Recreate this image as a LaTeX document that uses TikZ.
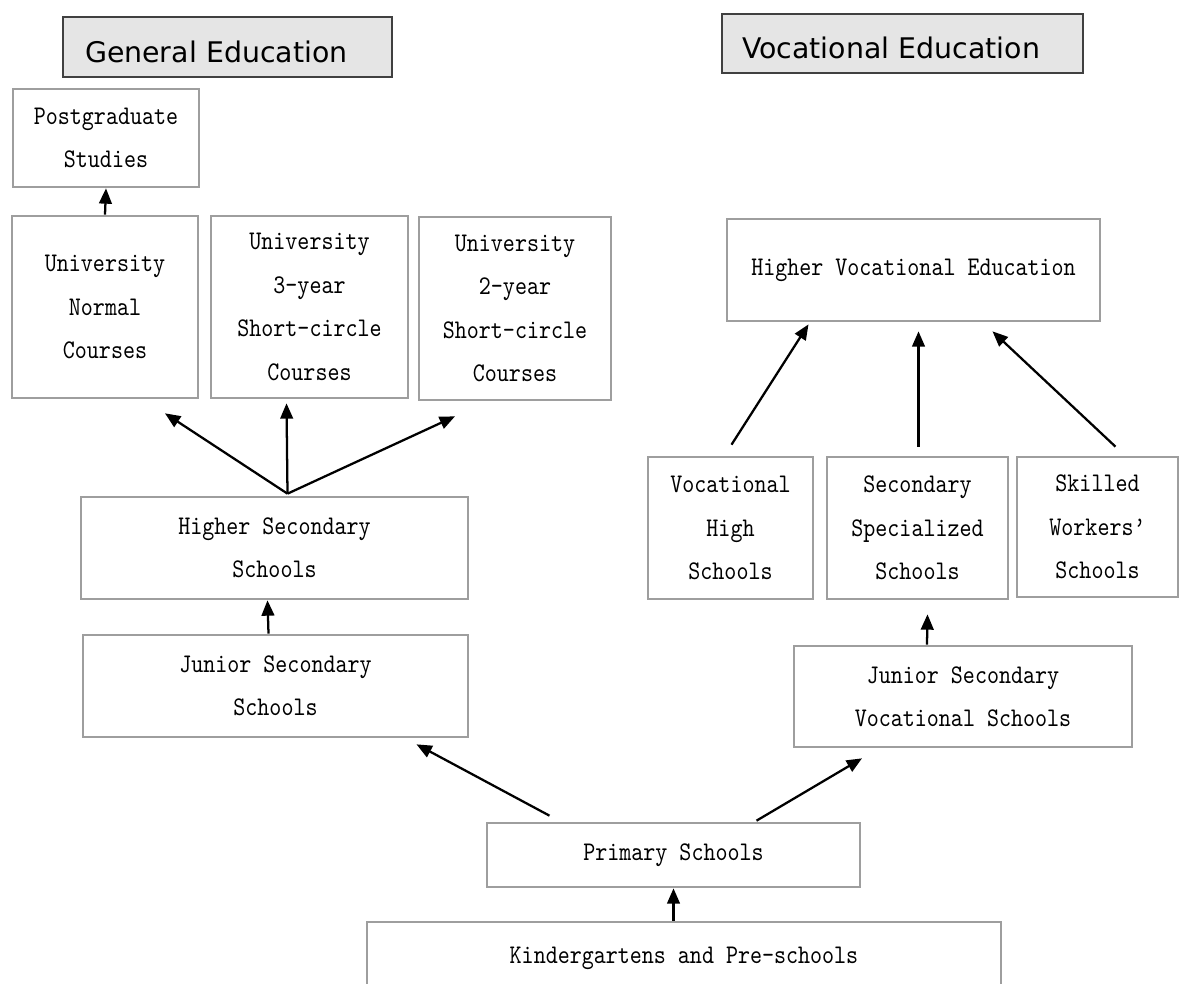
\documentclass[tikz,border=0pt]{standalone}
\usepackage{fontspec}
\usepackage{tikz}
\usetikzlibrary{arrows.meta, calc}
\newfontfamily\headfont{DejaVu Sans}
\newfontfamily\boxfont[FakeStretch=0.85]{lmmono10-regular.otf}

\begin{document}
\begin{tikzpicture}[
  x=0.75pt, y=-0.75pt,
  >={Triangle[length=11.5pt, width=9.5pt]},
  font={\boxfont\fontsize{20.2}{32.6}\selectfont},
  sz/.style 2 args={minimum width=#1*0.75pt, minimum height=#2*0.75pt},
  B/.style={draw=black!38, line width=2pt, rectangle, align=center,
            inner sep=0pt},
  H/.style={draw=black!75, fill=black!10, line width=1.1pt, rectangle,
            align=left, text height=22.5pt, text depth=0pt,
            font={\headfont\fontsize{21.3}{26}\selectfont}},
  arr/.style={->, line width=1.7pt},
]
\useasboundingbox (0,0) rectangle (1182,983);

%% ---- Headings ----
\node[H, text width=213.75pt, inner xsep=16.5pt, minimum height=45pt]
  (gen) at (227.5,47) {General Education};
\node[H, text width=240.75pt, inner xsep=15pt, minimum height=44.25pt]
  (voc) at (902.5,43.5) {Vocational Education};

%% ---- General education (left) ----
\node[B, sz={186}{98}]  (pg)   at (106,138)   {Postgraduate\\Studies};
\node[B, sz={186}{182}] (norm) at (105,307)   {University\\Normal\\Courses};
\node[B, sz={197}{182}] (thr)  at (309.5,307) {University\\3-year\\Short-circle\\Courses};
\node[B, sz={192}{183}] (two)  at (515,308.5) {University\\2-year\\Short-circle\\Courses};
\node[B, sz={387}{102}] (hsg)  at (274.5,548) {Higher Secondary\\Schools};
\node[B, sz={385}{102}] (jsg)  at (275.5,686) {Junior Secondary\\Schools};

%% ---- Vocational education (right) ----
\node[B, sz={373}{102}] (hve)  at (913.5,270)  {Higher Vocational Education};
\node[B, sz={165}{142}] (vh)   at (730.5,528)  {Vocational\\High\\Schools};
\node[B, sz={181}{142}] (ss)   at (917.5,528)  {Secondary\\Specialized\\Schools};
\node[B, sz={161}{140}] (sw)   at (1097.5,527) {Skilled\\Workers’\\Schools};
\node[B, sz={338}{101}] (jsv)  at (963,696.5)  {Junior Secondary\\Vocational Schools};

%% ---- Common base ----
\node[B, sz={373}{64}]  (prim) at (673.5,855) {Primary Schools};
\node[B, sz={634}{72}]  (kin)  at (684,958)   {Kindergartens and Pre-schools};

%% ---- Arrows, left side ----
\coordinate (hstop) at ($(hsg.north)+(13,-2)$);
\draw[arr] (hstop) -- ($(norm.south)+(60,14)$);
\draw[arr] (hstop) -- ($(thr.south)+(-23,4)$);
\draw[arr] (hstop) -- ($(two.south)+(-60,15)$);
\draw[arr] (norm.north) -- (pg.south);
\draw[arr] ($(jsg.north)+(-7,0)$) -- ($(hsg.south)+(-7,0)$);

%% ---- Arrows, right side ----
\draw[arr] ($(vh.north)+(1,-11)$) -- ($(hve.south)+(-105,2)$);
\draw[arr] ($(ss.north)+(1,-9)$)  -- ($(hve.south)+(5,9)$);
\draw[arr] ($(sw.north)+(18,-9)$) -- ($(hve.south)+(79,9)$);
\draw[arr] ($(jsv.north)+(-36,0)$) -- ($(ss.south)+(10,14)$);

%% ---- Arrows from the base ----
\draw[arr] ($(prim.north)+(-124,-6)$) -- ($(jsg.south)+(141,6)$);
\draw[arr] ($(prim.north)+(83,-1)$)   -- ($(jsv.south)+(-101,10)$);
\draw[arr] (kin.north -| prim.south) -- (prim.south);

\end{tikzpicture}
\end{document}
